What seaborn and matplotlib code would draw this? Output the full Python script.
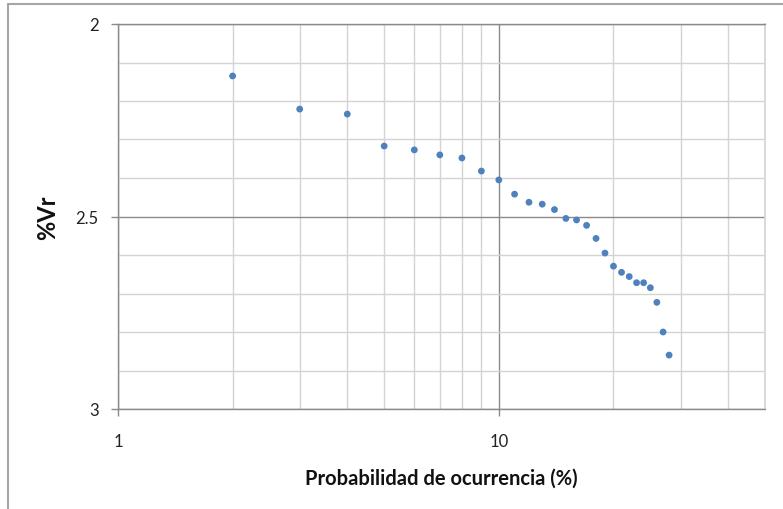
import seaborn as sns
from matplotlib import pyplot as plt
from matplotlib.patches import Rectangle
from matplotlib.ticker import FixedLocator, MultipleLocator, NullFormatter

# Probability of occurrence (%) and %Vr
prob = [2, 3, 4, 5, 6, 7, 8, 9, 10, 11, 12, 13, 14, 15, 16, 17, 18, 19,
        20, 21, 22, 23, 24, 25, 26, 27, 28]
vr = [2.135, 2.221, 2.234, 2.317, 2.327, 2.340, 2.348, 2.382, 2.405,
      2.442, 2.463, 2.468, 2.482, 2.505, 2.509, 2.523, 2.557, 2.595,
      2.629, 2.645, 2.656, 2.672, 2.672, 2.685, 2.723, 2.800, 2.860]

x_ticks = [1, 10]
x_minor = [2, 3, 4, 5, 6, 7, 8, 9, 20, 30, 40]
y_ticks = [2, 2.5, 3]

sns.set_theme(style="white")
plt.rcParams["font.family"] = ["Lato", "DejaVu Sans"]

fig = plt.figure(figsize=(7.83, 5.10), dpi=100)
ax = fig.add_axes([118 / 783, 1 - 410 / 510, (765 - 118) / 783, (410 - 25) / 510])

sns.scatterplot(x=prob, y=vr, ax=ax, color="#4F81BD", s=24,
                edgecolor="none", zorder=3)

ax.set_xscale("log")
ax.set_xlim(1, 50)
ax.set_ylim(3, 2)

ax.xaxis.set_major_locator(FixedLocator(x_ticks))
ax.xaxis.set_major_formatter(plt.FixedFormatter([str(t) for t in x_ticks]))
ax.xaxis.set_minor_locator(FixedLocator(x_minor))
ax.xaxis.set_minor_formatter(NullFormatter())
ax.yaxis.set_major_locator(FixedLocator(y_ticks))
ax.yaxis.set_major_formatter(plt.FixedFormatter(["2", "2.5", "3"]))
ax.yaxis.set_minor_locator(MultipleLocator(0.1))

ax.grid(True, which="major", color="#8a8a8a", linewidth=1.0)
ax.grid(True, which="minor", color="#d4d4d4", linewidth=1.0)
ax.set_axisbelow(True)

ax.tick_params(axis="both", which="major", length=5, width=1,
               color="#8a8a8a", labelsize=12, labelcolor="#222222")
ax.tick_params(axis="x", which="major", bottom=True, pad=12)
ax.tick_params(axis="y", which="major", left=True, pad=9)
ax.tick_params(axis="both", which="minor", length=0)

for side in ["left", "bottom", "top"]:
    ax.spines[side].set_color("#8a8a8a")
    ax.spines[side].set_linewidth(1.0)
ax.spines["right"].set_color("#d4d4d4")

ax.set_xlabel("Probabilidad de ocurrencia (%)", fontsize=14.5,
              fontweight="bold", labelpad=14, color="#111111")
ax.set_ylabel("%Vr", fontsize=17, fontweight="bold", labelpad=12,
              color="#111111")

fig.patches.append(Rectangle((8 / 783, -0.05), 1.2, 1.04 - 5 / 510 + 0.01,
                             transform=fig.transFigure, fill=False,
                             edgecolor="#a6a6a6", linewidth=1.5))

fig.savefig("out.png", dpi=100)
